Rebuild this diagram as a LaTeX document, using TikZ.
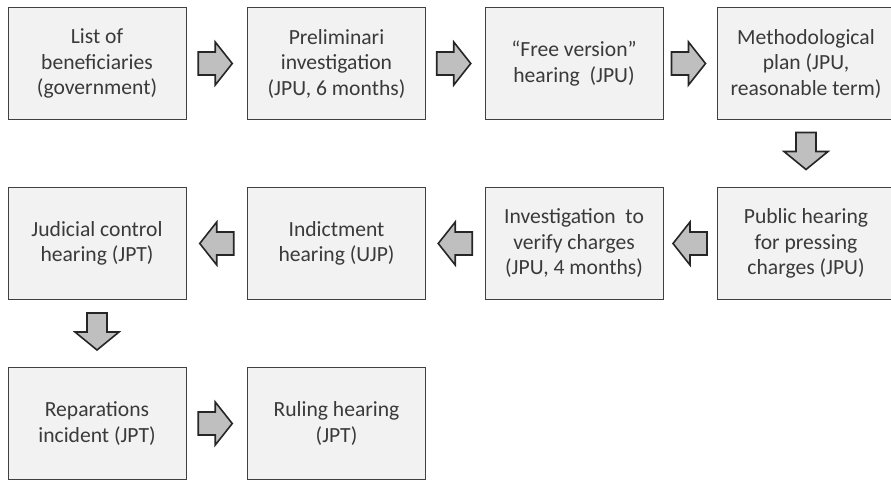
\documentclass[tikz,border=0pt]{standalone}
\usepackage{fontspec}
\setmainfont{Carlito}
\usetikzlibrary{calc}
\definecolor{boxfill}{HTML}{F2F2F2}
\definecolor{boxline}{HTML}{404040}
\definecolor{txt}{HTML}{3A3A3A}
\definecolor{arrfill}{HTML}{BFBFBF}
\tikzset{
  stepbox/.style={draw=boxline, line width=0.9pt, fill=boxfill, minimum width=178pt, minimum height=112pt,
    align=center, text=txt, inner sep=2pt, font=\fontsize{21.6}{25.5}\selectfont},
  blockarrow/.style={draw=black!85, line width=1.6pt, fill=arrfill, line join=miter},
  harrow/.pic={\draw[blockarrow] (-17,-11.5) -- (0,-11.5) -- (0,-21.5) -- (17,0) -- (0,21.5) -- (0,11.5) -- (-17,11.5) -- cycle;},
  varrow/.pic={\draw[blockarrow] (-10,-18.5) -- (10,-18.5) -- (10,0.5) -- (22,0.5) -- (0,18.5) -- (-22,0.5) -- (-10,0.5) -- cycle;}
}
\begin{document}
\begin{tikzpicture}[x=1pt,y=-1pt]
\useasboundingbox (0,0) rectangle (891,480);
\clip (0,0) rectangle (891,480);
% row 1
\node[stepbox] (b1) at (97,63.5) {List of\\beneficiaries\\(government)};
\node[stepbox] (b2) at (336.5,63.5) {Preliminari\\investigation\\(JPU, 6 months)};
\node[stepbox] (b3) at (574,63.5) {“Free version”\\hearing\ \ (JPU)};
\node[stepbox] (b4) at (806,63.5) {Methodological\\plan (JPU,\\reasonable term)};
% row 2
\node[stepbox] (b5) at (806,243.5) {Public hearing\\for pressing\\charges (JPU)};
\node[stepbox] (b6) at (574,243.5) {Investigation\ \ to\\verify charges\\(JPU, 4 months)};
\node[stepbox] (b7) at (336.5,243.5) {Indictment\\hearing (UJP)};
\node[stepbox] (b8) at (97,243.5) {Judicial control\\hearing (JPT)};
% row 3
\node[stepbox] (b9) at (97,423.5) {Reparations\\incident (JPT)};
\node[stepbox] (b10) at (336.5,423.5) {Ruling hearing\\(JPT)};
% arrows
\coordinate (a1) at ($(b1.east)!0.5!(b2.west)+(-1.5,0)$);
\coordinate (a2) at ($(b2.east)!0.5!(b3.west)+(-1.5,0)$);
\coordinate (a3) at ($(b3.east)!0.5!(b4.west)+(-1.5,0)$);
\coordinate (a4) at ($(b4.south)!0.5!(b5.north)+(0,-2.5)$);
\coordinate (a5) at ($(b5.west)!0.5!(b6.east)$);
\coordinate (a6) at ($(b6.west)!0.5!(b7.east)$);
\coordinate (a7) at ($(b7.west)!0.5!(b8.east)$);
\coordinate (a8) at ($(b8.south)!0.5!(b9.north)+(0,-2)$);
\coordinate (a9) at ($(b9.east)!0.5!(b10.west)+(-1.5,0)$);
\pic at (a1) {harrow};
\pic at (a2) {harrow};
\pic at (a3) {harrow};
\pic at (a4) {varrow};
\pic[xscale=-1] at (a5) {harrow};
\pic[xscale=-1] at (a6) {harrow};
\pic[xscale=-1] at (a7) {harrow};
\pic at (a8) {varrow};
\pic at (a9) {harrow};
\end{tikzpicture}
\end{document}
